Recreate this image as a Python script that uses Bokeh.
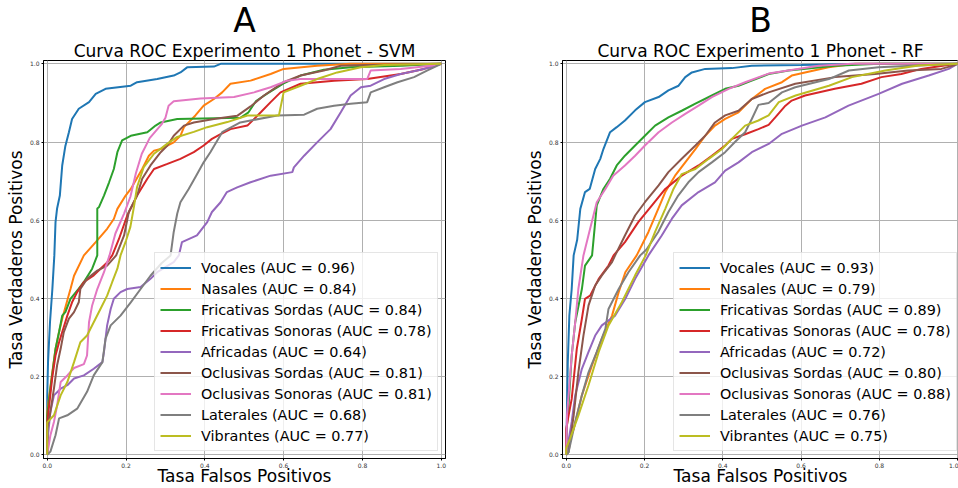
from bokeh.plotting import figure
from bokeh.layouts import row
from bokeh.models import Title, PrintfTickFormatter, FixedTicker
from bokeh.embed import file_html
from bokeh.resources import INLINE

FONT = "DejaVu Sans"

CLASS_NAMES = ["Vocales", "Nasales", "Fricativas Sordas", "Fricativas Sonoras", "Africadas",
               "Oclusivas Sordas", "Oclusivas Sonoras", "Laterales", "Vibrantes"]
COLORS = ["#1f77b4", "#ff7f0e", "#2ca02c", "#d62728", "#9467bd",
          "#8c564b", "#e377c2", "#7f7f7f", "#bcbd22"]
TICKS = [0.0, 0.2, 0.4, 0.6, 0.8, 1.0]

SVM_AUC = [0.96, 0.84, 0.84, 0.78, 0.64, 0.81, 0.81, 0.68, 0.77]
RF_AUC = [0.93, 0.79, 0.89, 0.78, 0.72, 0.80, 0.88, 0.76, 0.75]

# ---------------- SVM curves (fpr, tpr) ----------------
SVM_VOCALES_FPR = [0, 0, 0.002, 0.007, 0.013, 0.018, 0.021, 0.025, 0.032, 0.038, 0.046, 0.055, 0.063, 0.08, 0.106, 0.123, 0.148, 0.212, 0.228, 0.279, 0.321, 0.338, 0.355, 0.423, 0.44, 1.0]
SVM_VOCALES_TPR = [0, 0.15, 0.237, 0.339, 0.424, 0.51, 0.595, 0.63, 0.663, 0.74, 0.79, 0.825, 0.859, 0.885, 0.902, 0.923, 0.936, 0.944, 0.953, 0.961, 0.97, 0.978, 0.991, 0.993, 1.0, 1.0]

SVM_NASALES_FPR = [0, 0, 0.004, 0.013, 0.021, 0.03, 0.038, 0.051, 0.059, 0.068, 0.093, 0.123, 0.152, 0.169, 0.178, 0.199, 0.212, 0.241, 0.258, 0.271, 0.288, 0.321, 0.338, 0.347, 0.376, 0.397, 0.423, 0.444, 0.465, 0.516, 0.567, 0.6, 0.685, 0.77, 1.0]
SVM_NASALES_TPR = [0, 0.11, 0.143, 0.212, 0.271, 0.314, 0.348, 0.395, 0.424, 0.458, 0.51, 0.544, 0.578, 0.603, 0.629, 0.663, 0.68, 0.731, 0.765, 0.778, 0.782, 0.799, 0.816, 0.838, 0.868, 0.893, 0.91, 0.927, 0.949, 0.957, 0.974, 0.987, 0.995, 1.0, 1.0]

SVM_FRIC_SORDAS_FPR = [0, 0, 0.008, 0.021, 0.03, 0.038, 0.046, 0.059, 0.08, 0.093, 0.114, 0.127, 0.127, 0.131, 0.144, 0.157, 0.169, 0.178, 0.19, 0.212, 0.254, 0.275, 0.288, 0.33, 0.49, 0.51, 0.53, 0.56, 0.6, 0.643, 0.702, 0.77, 0.9, 1.0]
SVM_FRIC_SORDAS_TPR = [0, 0.1, 0.169, 0.271, 0.314, 0.356, 0.365, 0.399, 0.425, 0.442, 0.476, 0.51, 0.63, 0.633, 0.663, 0.697, 0.731, 0.774, 0.804, 0.816, 0.825, 0.842, 0.85, 0.859, 0.862, 0.875, 0.905, 0.925, 0.95, 0.97, 0.985, 0.991, 0.995, 1.0]

SVM_FRIC_SONORAS_FPR = [0, 0, 0.002, 0.013, 0.021, 0.03, 0.038, 0.051, 0.063, 0.076, 0.093, 0.118, 0.152, 0.165, 0.182, 0.203, 0.228, 0.254, 0.271, 0.305, 0.338, 0.372, 0.397, 0.418, 0.44, 0.465, 0.508, 0.542, 0.567, 0.592, 0.643, 0.728, 0.812, 0.897, 0.956, 0.99, 1.0]
SVM_FRIC_SONORAS_TPR = [0, 0.08, 0.1, 0.2, 0.254, 0.288, 0.314, 0.356, 0.39, 0.416, 0.442, 0.459, 0.492, 0.51, 0.552, 0.612, 0.663, 0.706, 0.731, 0.744, 0.757, 0.774, 0.791, 0.808, 0.82, 0.833, 0.842, 0.876, 0.902, 0.927, 0.949, 0.957, 0.961, 0.974, 0.987, 0.997, 1.0]

SVM_AFRICADAS_FPR = [0, 0.002, 0.008, 0.017, 0.034, 0.051, 0.068, 0.093, 0.118, 0.14, 0.144, 0.152, 0.161, 0.169, 0.186, 0.203, 0.237, 0.262, 0.279, 0.321, 0.334, 0.342, 0.38, 0.406, 0.418, 0.44, 0.456, 0.482, 0.516, 0.567, 0.622, 0.626, 0.652, 0.685, 0.719, 0.745, 0.77, 0.796, 0.821, 0.855, 0.897, 0.939, 0.973, 1.0]
SVM_AFRICADAS_TPR = [0, 0.05, 0.11, 0.152, 0.169, 0.178, 0.195, 0.203, 0.22, 0.237, 0.263, 0.331, 0.373, 0.399, 0.416, 0.424, 0.429, 0.45, 0.467, 0.493, 0.51, 0.544, 0.561, 0.595, 0.621, 0.646, 0.672, 0.684, 0.697, 0.714, 0.723, 0.735, 0.765, 0.799, 0.833, 0.876, 0.919, 0.94, 0.944, 0.961, 0.974, 0.983, 0.991, 1.0]

SVM_OCL_SORDAS_FPR = [0, 0, 0.008, 0.017, 0.025, 0.034, 0.042, 0.055, 0.068, 0.08, 0.084, 0.101, 0.127, 0.152, 0.175, 0.195, 0.207, 0.228, 0.241, 0.262, 0.288, 0.305, 0.321, 0.347, 0.372, 0.423, 0.482, 0.516, 0.55, 0.6, 0.643, 0.702, 0.745, 0.812, 1.0]
SVM_OCL_SORDAS_TPR = [0, 0.067, 0.11, 0.169, 0.229, 0.271, 0.314, 0.348, 0.365, 0.39, 0.424, 0.45, 0.471, 0.484, 0.51, 0.561, 0.621, 0.663, 0.706, 0.74, 0.774, 0.791, 0.816, 0.842, 0.85, 0.859, 0.867, 0.891, 0.919, 0.953, 0.97, 0.983, 0.995, 0.997, 1.0]

SVM_OCL_SONORAS_FPR = [0, 0.008, 0.017, 0.025, 0.034, 0.051, 0.068, 0.093, 0.101, 0.106, 0.114, 0.127, 0.144, 0.158, 0.173, 0.195, 0.211, 0.225, 0.24, 0.26, 0.29, 0.3, 0.308, 0.321, 0.389, 0.474, 0.525, 0.567, 0.609, 0.643, 0.812, 0.821, 0.897, 0.973, 1.0]
SVM_OCL_SONORAS_TPR = [0, 0.05, 0.084, 0.126, 0.186, 0.203, 0.222, 0.232, 0.254, 0.339, 0.382, 0.424, 0.467, 0.51, 0.566, 0.617, 0.66, 0.72, 0.77, 0.81, 0.845, 0.862, 0.893, 0.904, 0.911, 0.915, 0.927, 0.94, 0.957, 0.961, 0.961, 0.983, 0.987, 0.995, 1.0]

SVM_LATERALES_FPR = [0, 0.008, 0.021, 0.03, 0.051, 0.076, 0.101, 0.118, 0.14, 0.148, 0.161, 0.186, 0.212, 0.237, 0.262, 0.29, 0.313, 0.321, 0.33, 0.338, 0.359, 0.378, 0.397, 0.414, 0.444, 0.49, 0.516, 0.584, 0.652, 0.685, 0.728, 0.77, 0.812, 0.821, 0.855, 0.889, 0.931, 0.965, 1.0]
SVM_LATERALES_TPR = [0, 0.008, 0.05, 0.093, 0.101, 0.118, 0.161, 0.203, 0.237, 0.297, 0.331, 0.356, 0.39, 0.424, 0.458, 0.49, 0.51, 0.57, 0.617, 0.646, 0.68, 0.714, 0.748, 0.774, 0.825, 0.85, 0.855, 0.868, 0.87, 0.885, 0.893, 0.898, 0.902, 0.927, 0.94, 0.953, 0.966, 0.983, 1.0]

SVM_VIBRANTES_FPR = [0, 0, 0.017, 0.034, 0.051, 0.068, 0.084, 0.101, 0.118, 0.135, 0.152, 0.165, 0.178, 0.186, 0.2, 0.211, 0.22, 0.228, 0.245, 0.271, 0.305, 0.33, 0.372, 0.406, 0.457, 0.508, 0.588, 0.6, 0.643, 0.685, 0.736, 0.796, 0.855, 1.0]
SVM_VIBRANTES_TPR = [0, 0.083, 0.101, 0.152, 0.186, 0.237, 0.288, 0.305, 0.339, 0.373, 0.407, 0.442, 0.476, 0.51, 0.548, 0.583, 0.634, 0.685, 0.736, 0.77, 0.796, 0.813, 0.826, 0.838, 0.851, 0.868, 0.868, 0.927, 0.944, 0.961, 0.978, 0.991, 0.997, 1.0]

# ---------------- RF curves (fpr, tpr) ----------------
RF_VOCALES_FPR = [0, 0.004, 0.008, 0.014, 0.019, 0.028, 0.036, 0.048, 0.06, 0.074, 0.087, 0.095, 0.112, 0.129, 0.15, 0.176, 0.201, 0.236, 0.261, 0.287, 0.304, 0.321, 0.355, 0.423, 0.474, 0.6, 0.75, 1.0]
RF_VOCALES_TPR = [0, 0.236, 0.356, 0.424, 0.51, 0.55, 0.629, 0.672, 0.68, 0.731, 0.757, 0.782, 0.825, 0.838, 0.855, 0.881, 0.902, 0.915, 0.932, 0.944, 0.966, 0.978, 0.987, 0.989, 0.995, 0.997, 1.0, 1.0]

RF_NASALES_FPR = [0, 0.002, 0.019, 0.04, 0.066, 0.091, 0.117, 0.134, 0.151, 0.18, 0.21, 0.235, 0.253, 0.278, 0.304, 0.33, 0.355, 0.38, 0.406, 0.44, 0.474, 0.508, 0.551, 0.576, 0.61, 0.67, 0.738, 1.0]
RF_NASALES_TPR = [0, 0.017, 0.066, 0.152, 0.229, 0.297, 0.356, 0.416, 0.467, 0.51, 0.57, 0.629, 0.672, 0.714, 0.748, 0.782, 0.816, 0.842, 0.859, 0.876, 0.91, 0.936, 0.953, 0.97, 0.978, 0.991, 1.0, 1.0]

RF_FRIC_SORDAS_FPR = [0, 0, 0.006, 0.014, 0.023, 0.04, 0.048, 0.066, 0.078, 0.095, 0.112, 0.129, 0.15, 0.176, 0.201, 0.227, 0.261, 0.295, 0.33, 0.372, 0.406, 0.44, 0.474, 0.517, 0.568, 0.687, 0.8, 1.0]
RF_FRIC_SORDAS_TPR = [0, 0.05, 0.126, 0.254, 0.339, 0.424, 0.484, 0.51, 0.638, 0.68, 0.706, 0.74, 0.765, 0.791, 0.816, 0.842, 0.863, 0.88, 0.898, 0.919, 0.936, 0.944, 0.957, 0.974, 0.983, 0.995, 1.0, 1.0]

RF_FRIC_SONORAS_FPR = [0, 0, 0.006, 0.014, 0.027, 0.04, 0.048, 0.061, 0.083, 0.108, 0.121, 0.15, 0.184, 0.219, 0.253, 0.295, 0.338, 0.372, 0.406, 0.423, 0.457, 0.491, 0.517, 0.534, 0.56, 0.576, 0.61, 0.686, 0.754, 0.805, 0.856, 0.907, 0.966, 1.0]
RF_FRIC_SONORAS_TPR = [0, 0.066, 0.1, 0.143, 0.271, 0.348, 0.399, 0.407, 0.45, 0.484, 0.51, 0.544, 0.595, 0.638, 0.68, 0.714, 0.74, 0.765, 0.791, 0.808, 0.82, 0.833, 0.844, 0.863, 0.893, 0.906, 0.919, 0.936, 0.949, 0.966, 0.974, 0.987, 0.996, 1.0]

RF_AFRICADAS_FPR = [0, 0.014, 0.023, 0.04, 0.057, 0.074, 0.091, 0.125, 0.151, 0.176, 0.21, 0.244, 0.27, 0.295, 0.338, 0.38, 0.406, 0.44, 0.474, 0.517, 0.551, 0.602, 0.662, 0.721, 0.798, 0.858, 0.926, 0.977, 1.0]
RF_AFRICADAS_TPR = [0, 0.084, 0.152, 0.22, 0.263, 0.305, 0.331, 0.356, 0.399, 0.45, 0.51, 0.561, 0.604, 0.638, 0.672, 0.697, 0.727, 0.748, 0.774, 0.795, 0.821, 0.842, 0.863, 0.893, 0.923, 0.949, 0.97, 0.987, 1.0]

RF_OCL_SORDAS_FPR = [0, 0.006, 0.019, 0.031, 0.044, 0.057, 0.074, 0.091, 0.117, 0.125, 0.15, 0.176, 0.201, 0.236, 0.261, 0.295, 0.33, 0.355, 0.38, 0.406, 0.44, 0.474, 0.517, 0.585, 0.687, 0.789, 0.874, 0.958, 0.99, 1.0]
RF_OCL_SORDAS_TPR = [0, 0.007, 0.1, 0.211, 0.305, 0.382, 0.433, 0.459, 0.493, 0.51, 0.561, 0.612, 0.646, 0.689, 0.723, 0.757, 0.791, 0.816, 0.85, 0.868, 0.88, 0.91, 0.927, 0.949, 0.966, 0.974, 0.983, 0.987, 0.996, 1.0]

RF_OCL_SONORAS_FPR = [0, 0.002, 0.014, 0.023, 0.031, 0.044, 0.061, 0.078, 0.1, 0.12, 0.15, 0.176, 0.201, 0.236, 0.27, 0.304, 0.338, 0.372, 0.415, 0.457, 0.517, 0.645, 0.73, 1.0]
RF_OCL_SONORAS_TPR = [0, 0.1, 0.254, 0.339, 0.424, 0.51, 0.578, 0.646, 0.68, 0.714, 0.74, 0.765, 0.791, 0.825, 0.85, 0.872, 0.893, 0.915, 0.936, 0.953, 0.975, 0.995, 1.0, 1.0]

RF_LATERALES_FPR = [0, 0.006, 0.023, 0.04, 0.057, 0.078, 0.1, 0.108, 0.134, 0.159, 0.189, 0.205, 0.235, 0.261, 0.286, 0.312, 0.338, 0.372, 0.406, 0.431, 0.457, 0.474, 0.491, 0.517, 0.551, 0.585, 0.671, 0.722, 0.798, 0.9, 1.0]
RF_LATERALES_TPR = [0, 0.007, 0.084, 0.152, 0.211, 0.263, 0.322, 0.373, 0.424, 0.467, 0.51, 0.525, 0.57, 0.621, 0.663, 0.697, 0.723, 0.748, 0.774, 0.8, 0.825, 0.859, 0.895, 0.9, 0.927, 0.94, 0.961, 0.983, 0.991, 0.996, 1.0]

RF_VIBRANTES_FPR = [0, 0, 0.01, 0.031, 0.057, 0.083, 0.108, 0.142, 0.176, 0.203, 0.227, 0.253, 0.274, 0.295, 0.33, 0.364, 0.398, 0.423, 0.457, 0.491, 0.517, 0.543, 0.586, 0.671, 0.73, 0.815, 0.9, 1.0]
RF_VIBRANTES_TPR = [0, 0.017, 0.042, 0.1, 0.178, 0.263, 0.331, 0.39, 0.459, 0.51, 0.57, 0.629, 0.68, 0.718, 0.731, 0.757, 0.782, 0.808, 0.842, 0.855, 0.868, 0.902, 0.919, 0.944, 0.966, 0.983, 0.996, 1.0]

SVM_CURVES = [(SVM_VOCALES_FPR, SVM_VOCALES_TPR), (SVM_NASALES_FPR, SVM_NASALES_TPR),
              (SVM_FRIC_SORDAS_FPR, SVM_FRIC_SORDAS_TPR), (SVM_FRIC_SONORAS_FPR, SVM_FRIC_SONORAS_TPR),
              (SVM_AFRICADAS_FPR, SVM_AFRICADAS_TPR), (SVM_OCL_SORDAS_FPR, SVM_OCL_SORDAS_TPR),
              (SVM_OCL_SONORAS_FPR, SVM_OCL_SONORAS_TPR), (SVM_LATERALES_FPR, SVM_LATERALES_TPR),
              (SVM_VIBRANTES_FPR, SVM_VIBRANTES_TPR)]
RF_CURVES = [(RF_VOCALES_FPR, RF_VOCALES_TPR), (RF_NASALES_FPR, RF_NASALES_TPR),
             (RF_FRIC_SORDAS_FPR, RF_FRIC_SORDAS_TPR), (RF_FRIC_SONORAS_FPR, RF_FRIC_SONORAS_TPR),
             (RF_AFRICADAS_FPR, RF_AFRICADAS_TPR), (RF_OCL_SORDAS_FPR, RF_OCL_SORDAS_TPR),
             (RF_OCL_SONORAS_FPR, RF_OCL_SONORAS_TPR), (RF_LATERALES_FPR, RF_LATERALES_TPR),
             (RF_VIBRANTES_FPR, RF_VIBRANTES_TPR)]


def make_panel(letter, subtitle, curves, aucs, width, border_left, border_right, x_end,
               letter_offset, subtitle_offset):
    p = figure(width=width, height=488, x_range=(-0.0095, x_end), y_range=(-0.0095, 1.0085),
               output_backend="svg", toolbar_location=None,
               min_border_left=border_left, min_border_right=border_right,
               min_border_top=60, min_border_bottom=30)
    # outer title: big panel letter
    p.title.text = letter
    p.title.text_font = FONT
    p.title.text_font_size = "33px"
    p.title.text_font_style = "normal"
    p.title.text_color = "black"
    p.title.align = "center"
    p.title.standoff = -3
    p.title.offset = letter_offset
    # inner title: subtitle next to the frame
    p.add_layout(Title(text=subtitle, text_font=FONT, text_font_size="17px",
                       text_font_style="normal", text_color="black", align="center",
                       standoff=0, offset=subtitle_offset), "above")

    p.outline_line_color = "black"
    p.outline_line_width = 1
    p.background_fill_color = "white"
    p.border_fill_color = "white"

    for axis in (p.xaxis, p.yaxis):
        axis.ticker = FixedTicker(ticks=TICKS)
        axis.formatter = PrintfTickFormatter(format="%.1f")
        axis.major_label_text_font = FONT
        axis.major_label_text_font_size = "6px"
        axis.major_label_text_color = "#333333"
        axis.major_tick_in = 0
        axis.major_tick_out = 2
        axis.minor_tick_line_color = None
        axis.major_label_standoff = 2
        axis.axis_line_color = "black"
        axis.axis_label_text_font = FONT
        axis.axis_label_text_font_size = "17px"
        axis.axis_label_text_font_style = "normal"
        axis.axis_label_text_color = "black"
    p.xaxis.axis_label = "Tasa Falsos Positivos"
    p.yaxis.axis_label = "Tasa Verdaderos Positivos"
    p.xaxis.axis_label_standoff = -5
    p.yaxis.axis_label_standoff = 1

    p.grid.grid_line_color = "#b0b0b0"
    p.grid.grid_line_width = 1

    for (fpr, tpr), name, auc, color in zip(curves, CLASS_NAMES, aucs, COLORS):
        p.line(fpr, tpr, line_color=color, line_width=2,
               legend_label=f"{name} (AUC = {auc:.2f})")

    lg = p.legend[0]
    lg.location = (111, 7)
    lg.label_text_font = FONT
    lg.label_text_font_size = "14.4px"
    lg.label_text_color = "black"
    lg.glyph_width = 31
    lg.glyph_height = 19
    lg.label_height = 19
    lg.label_standoff = 10
    lg.spacing = 2
    lg.padding = 5
    lg.margin = 0
    lg.border_line_color = "#cccccc"
    lg.border_line_width = 1
    lg.background_fill_color = "white"
    lg.background_fill_alpha = 0.8
    return p


p1 = make_panel("A", "Curva ROC Experimento 1 Phonet - SVM", SVM_CURVES, SVM_AUC,
                480, 43, 35, 1.0108, 3, -1)
p2 = make_panel("B", "Curva ROC Experimento 1 Phonet - RF", RF_CURVES, RF_AUC,
                478, 82, 0, 1.0020, 6, 2)

layout = row(p1, p2)
open("out.html", "w").write(file_html(layout, INLINE))
